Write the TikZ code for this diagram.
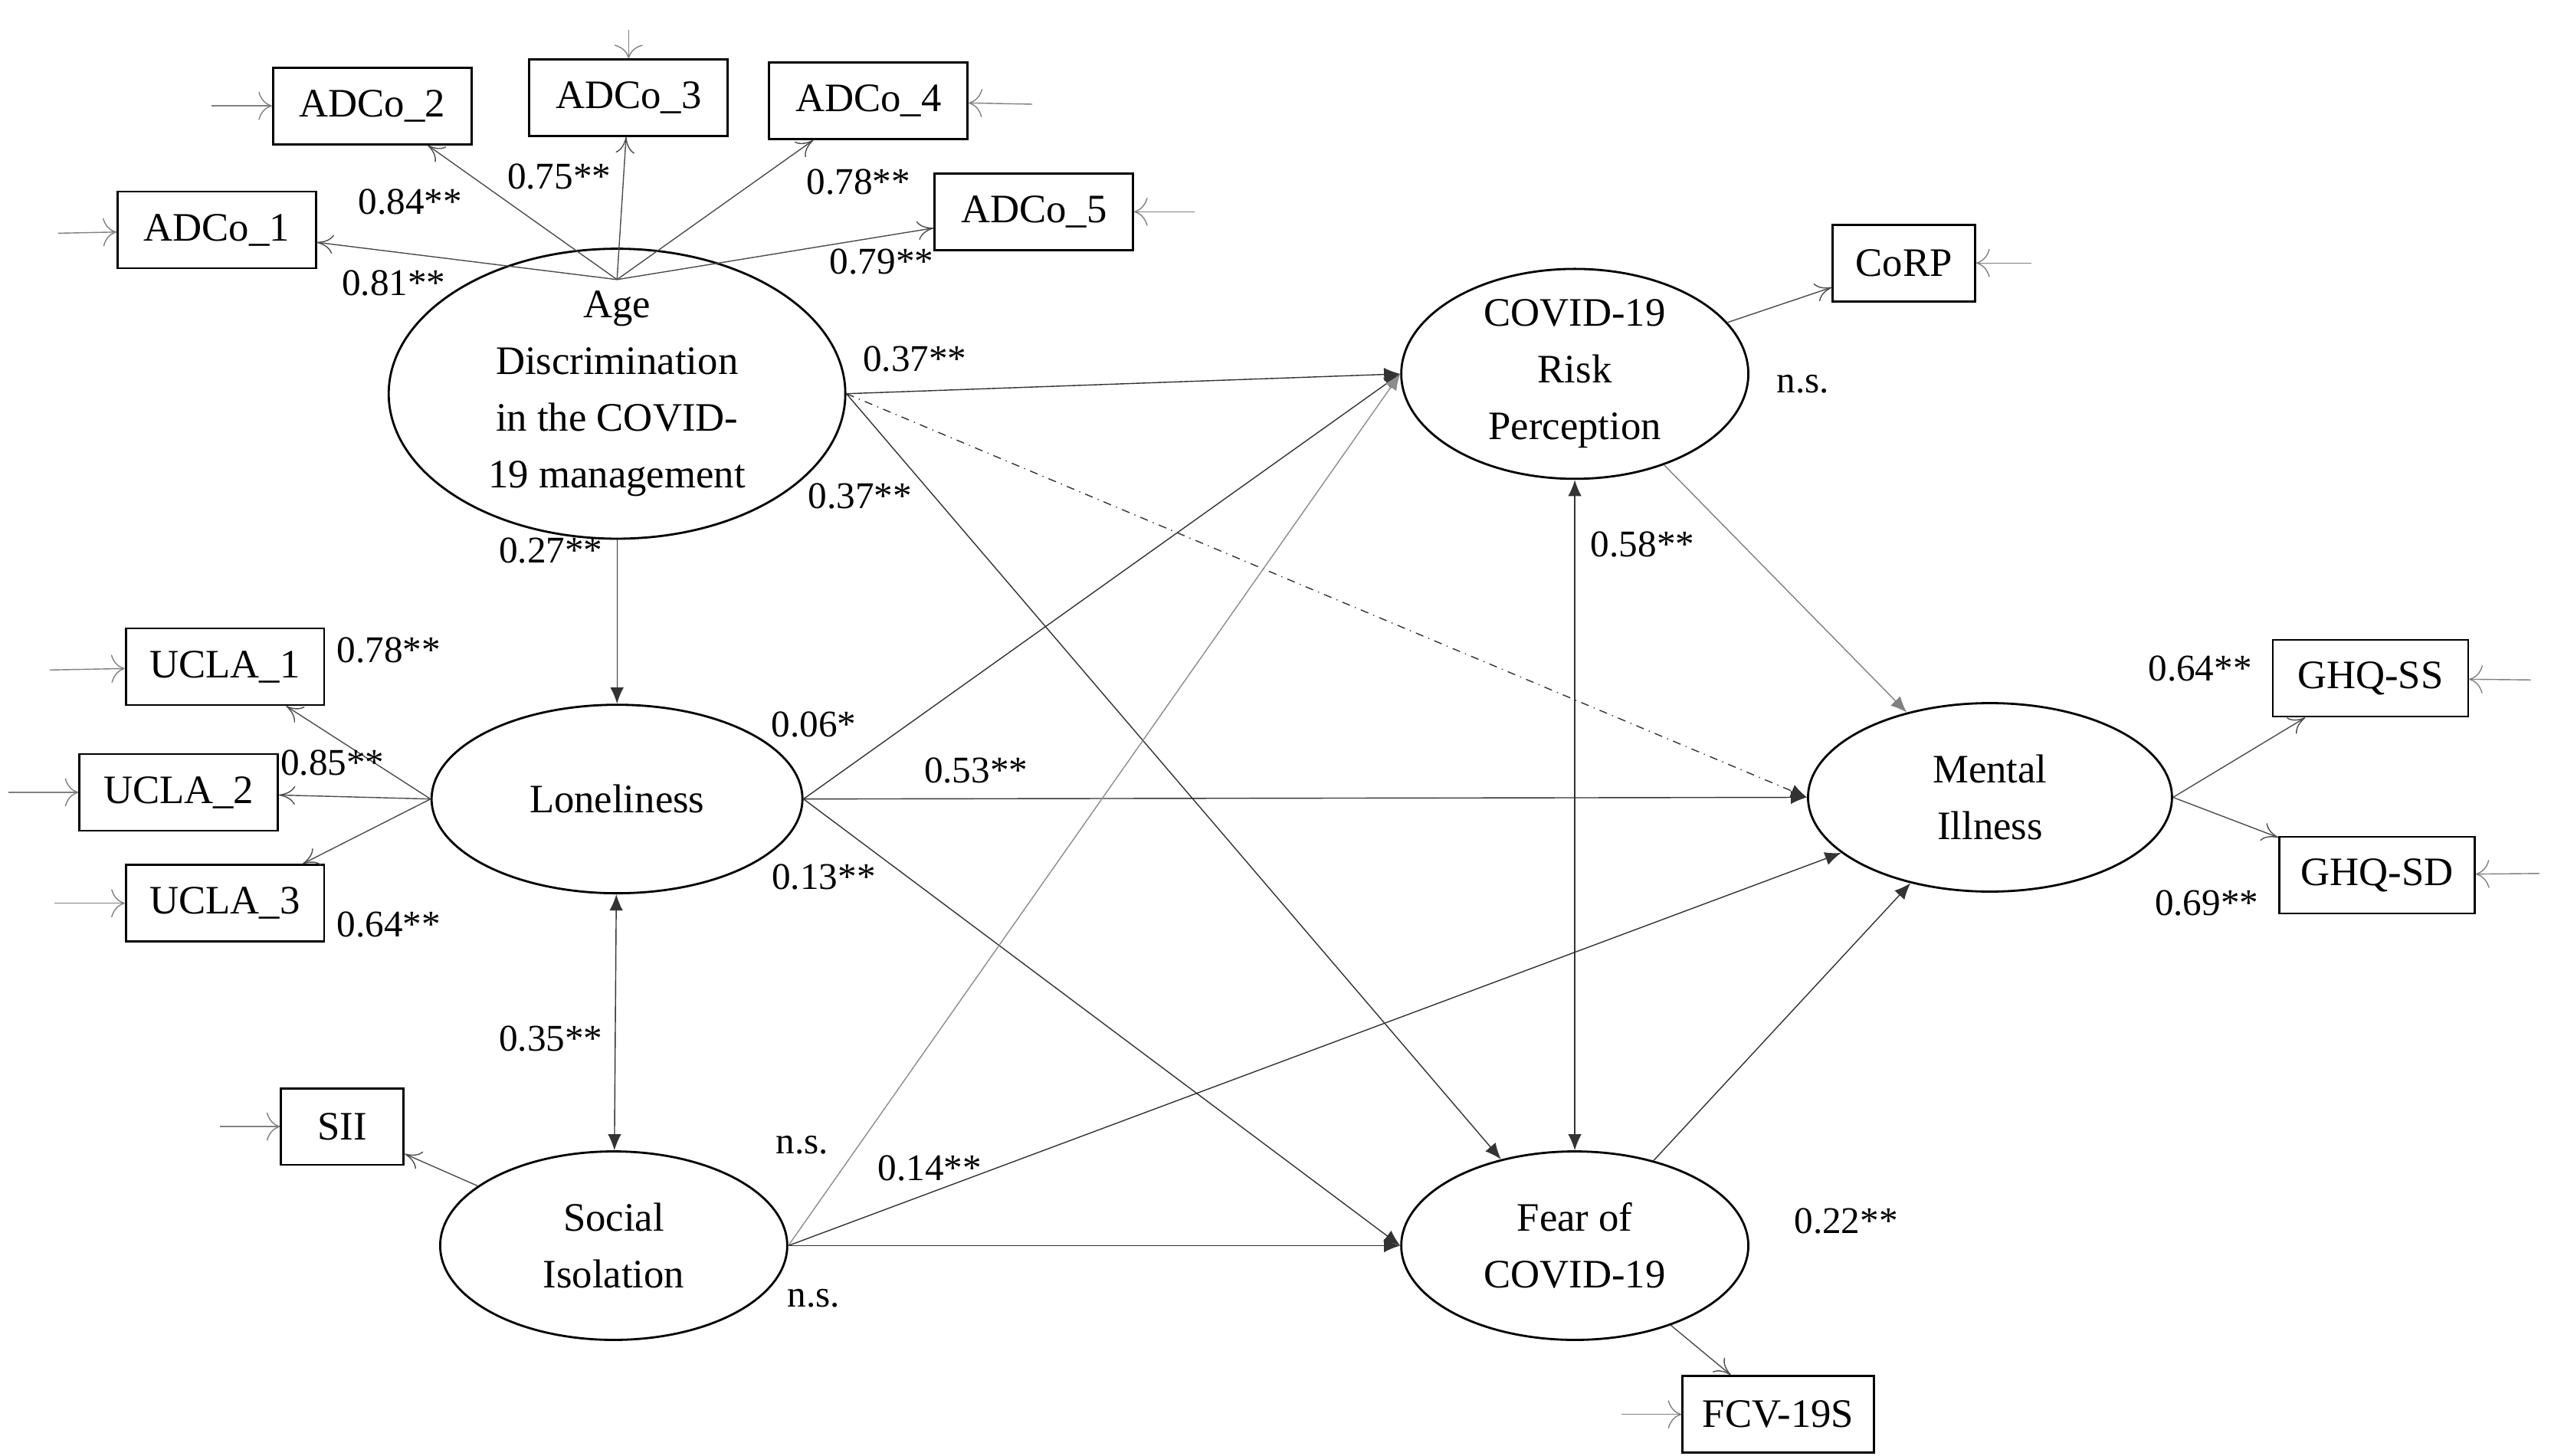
\documentclass[tikz,border=0pt]{standalone}
\usepackage{fontspec}
\setmainfont{Liberation Serif}
\usetikzlibrary{arrows.meta,shapes.geometric}

\begin{document}
\begin{tikzpicture}[x=0.02159cm, y=-0.02159cm,
    every node/.style={font=\fontsize{15}{21}\selectfont},
    obs/.style={draw, thick, minimum height=1.0cm, inner sep=0pt},
    lat/.style={draw, thick, ellipse, align=center, inner sep=0pt},
    err/.style={gray, -{To[length=5pt]}},
    load/.style={black!70, -{To[length=6pt,width=7pt]}},
    path/.style={black!80, -{Latex[length=6pt,width=5pt]}},
    both/.style={black!80, {Latex[length=6pt,width=5pt]}-{Latex[length=6pt,width=5pt]}},
    lbl/.style={font=\fontsize{14}{16}\selectfont}]
        \useasboundingbox (0,0) rectangle (1550,880);

        % latent variables
        \node[lat, minimum width=5.96cm, minimum height=3.02cm] (adc) at (373,238) {Age\\Discrimination\\in the COVID-\\19 management};
        \node[lat, minimum width=4.53cm, minimum height=2.46cm] (risk) at (952,226) {COVID-19\\Risk\\Perception};
        \node[lat, minimum width=4.75cm, minimum height=2.46cm] (mi) at (1203,482) {Mental\\Illness};
        \node[lat, minimum width=4.84cm, minimum height=2.46cm] (lone) at (373,483) {Loneliness};
        \node[lat, minimum width=4.53cm, minimum height=2.46cm] (si) at (371,753) {Social\\Isolation};
        \node[lat, minimum width=4.53cm, minimum height=2.46cm] (fear) at (952,753) {Fear of\\COVID-19};

        % indicators
        \node[obs, minimum width=2.59cm] (a2) at (225,64) {ADCo\_2};
        \node[obs, minimum width=2.59cm] (a3) at (380,59) {ADCo\_3};
        \node[obs, minimum width=2.59cm] (a4) at (525,61) {ADCo\_4};
        \node[obs, minimum width=2.59cm] (a5) at (625,128) {ADCo\_5};
        \node[obs, minimum width=2.59cm] (a1) at (131,139) {ADCo\_1};
        \node[obs, minimum width=1.86cm] (corp) at (1151,159) {CoRP};
        \node[obs, minimum width=2.55cm] (ss) at (1433,410) {GHQ-SS};
        \node[obs, minimum width=2.55cm] (sd) at (1437,529) {GHQ-SD};
        \node[obs, minimum width=2.59cm] (u1) at (136,403) {UCLA\_1};
        \node[obs, minimum width=2.59cm] (u2) at (108,479) {UCLA\_2};
        \node[obs, minimum width=2.59cm] (u3) at (136,546) {UCLA\_3};
        \node[obs, minimum width=1.60cm] (sii) at (207,681) {SII};
        \node[obs, minimum width=2.50cm] (fcv) at (1075,855) {FCV-19S};

        % error terms
        \coordinate (e2) at (128,64);
        \coordinate (e3) at (380,18);
        \coordinate (e4) at (624,63);
        \coordinate (e5) at (722,128);
        \coordinate (e1) at (35,141);
        \coordinate (ec) at (1228,159);
        \coordinate (es) at (1530,411);
        \coordinate (ed) at (1535,528);
        \coordinate (eu1) at (30,405);
        \coordinate (eu2) at (5,479);
        \coordinate (eu3) at (33,546);
        \coordinate (esi) at (133,681);
        \coordinate (ef) at (980,855);
        \foreach \e/\b in {e2/a2,e3/a3,e5/a5,e1/a1,ec/corp,es/ss,ed/sd,eu1/u1,eu2/u2,eu3/u3,esi/sii,ef/fcv,e4/a4}
            \draw[err] (\e) -- (\b);

        % loadings
        \coordinate (top) at (373,169);
        \draw[load] (top) -- (a2);
        \draw[load] (top) -- (a3);
        \draw[load] (top) -- (a4);
        \draw[load] (top) -- (a5);
        \draw[load] (top) -- (a1);
        \draw[load] (lone.west) -- (u1);
        \draw[load] (lone.west) -- (u2);
        \draw[load] (lone.west) -- (u3);
        \draw[load] (si) -- (sii);
        \draw[load] (risk) -- (corp);
        \draw[load] (fear) -- (fcv);
        \draw[load] (mi.east) -- (ss);
        \draw[load] (mi.east) -- (sd);

        % structural paths
        \draw[path] (adc.east) -- (risk.west);
        \draw[path] (adc.east) -- (fear);
        \draw[path, dash dot] (adc.east) -- (mi.west);
        \draw[path] (adc) -- (lone);
        \draw[path] (lone.east) -- (risk.west);
        \draw[path] (lone.east) -- (mi.west);
        \draw[path] (lone.east) -- (fear.west);
        \draw[path, black!45] (si.east) -- (risk.west);
        \draw[path] (si.east) -- (mi);
        \draw[path] (si.east) -- (fear.west);
        \draw[path, black!50] (risk) -- (mi);
        \draw[path] (fear) -- (mi);
        \draw[both] (risk) -- (fear);
        \draw[both] (lone) -- (si);

        % labels
        \node[lbl] at (248,122) {0.84**};
        \node[lbl] at (338,107) {0.75**};
        \node[lbl] at (519,110) {0.78**};
        \node[lbl] at (533,158) {0.79**};
        \node[lbl] at (238,171) {0.81**};
        \node[lbl] at (235,393) {0.78**};
        \node[lbl] at (201,461) {0.85**};
        \node[lbl] at (235,559) {0.64**};
        \node[lbl] at (553,217) {0.37**};
        \node[lbl] at (520,300) {0.37**};
        \node[lbl] at (333,333) {0.27**};
        \node[lbl] at (492,438) {0.06*};
        \node[lbl] at (590,466) {0.53**};
        \node[lbl] at (498,530) {0.13**};
        \node[lbl] at (333,628) {0.35**};
        \node[lbl] at (485,692) {n.s.};
        \node[lbl] at (562,706) {0.14**};
        \node[lbl] at (492,785) {n.s.};
        \node[lbl] at (993,329) {0.58**};
        \node[lbl] at (1090,232) {n.s.};
        \node[lbl] at (1116,738) {0.22**};
        \node[lbl] at (1330,404) {0.64**};
        \node[lbl] at (1334,546) {0.69**};
\end{tikzpicture}
\end{document}
